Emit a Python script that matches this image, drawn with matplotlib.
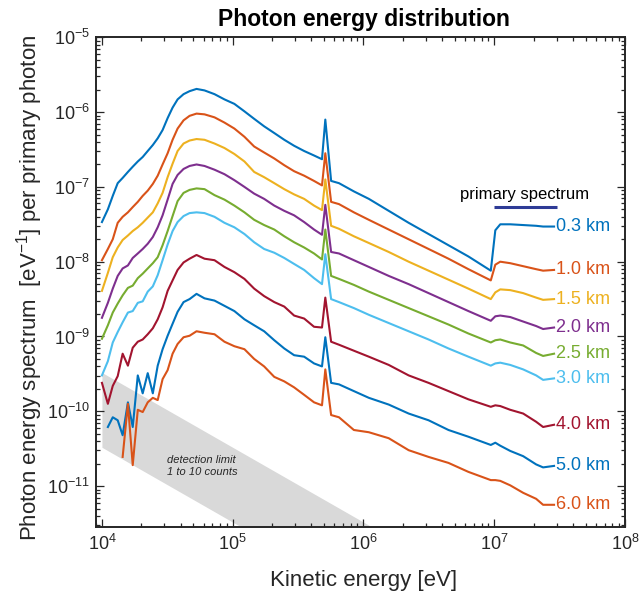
#!/usr/bin/env python3
"""
plot.py
───────
Photon energy spectra per primary photon at several depths (0.3 km … 6.0 km),
with the 1-to-10-count detection limit band and the primary spectrum marker.
Values were read off the reference figure (log10 of the spectrum).
Saves out.png (644x596 px).
"""

import numpy as np
import matplotlib
matplotlib.use("Agg")  # headless
import matplotlib.pyplot as plt

# ── Data ──────────────────────────────────────────────────────────────────────

energy_keV = [10.0, 11.1, 12.1, 13.2, 14.4, 15.8, 17.2, 18.8, 20.5, 22.4,
              24.5, 26.7, 29.1, 31.8, 34.7, 37.9, 42.1, 46.8, 52.9, 60.9,
              72.6, 86.5, 103, 123, 146, 174, 208, 248, 295, 352,
              419, 482, 511, 566, 650, 845, 1100, 1561, 2217, 3149,
              4471, 6350, 9420, 10200, 11130, 13270, 16660, 20930, 23660, 28700]

nan = np.nan

# log10 of spectrum [eV^-1 per primary photon]
log_03 = [-7.47, -7.30, -7.12, -6.95, -6.88, -6.80, -6.73, -6.66, -6.60, -6.52,
          -6.44, -6.35, -6.24, -6.08, -5.94, -5.83, -5.76, -5.72, -5.69, -5.71,
          -5.76, -5.83, -5.89, -5.99, -6.09, -6.19, -6.28, -6.37, -6.45, -6.52,
          -6.58, -6.63, -6.10, -6.92, -6.95, -7.06, -7.16, -7.32, -7.48, -7.63,
          -7.78, -7.93, -8.12, -7.58, -7.50, -7.50, -7.51, -7.52, -7.53, -7.53]
log_10 = [-7.98, -7.83, -7.70, -7.48, -7.40, -7.34, -7.27, -7.20, -7.12, -7.05,
          -6.96, -6.85, -6.70, -6.55, -6.37, -6.22, -6.11, -6.05, -6.02, -6.03,
          -6.07, -6.14, -6.22, -6.33, -6.46, -6.54, -6.62, -6.71, -6.79, -6.85,
          -6.92, -6.98, -6.55, -7.20, -7.23, -7.34, -7.44, -7.57, -7.70, -7.83,
          -7.96, -8.10, -8.25, -8.04, -8.00, -8.02, -8.06, -8.10, -8.12, -8.11]
log_15 = [-8.39, -8.15, -7.94, -7.81, -7.71, -7.65, -7.59, -7.54, -7.48, -7.41,
          -7.34, -7.22, -7.08, -6.87, -6.69, -6.52, -6.42, -6.38, -6.36, -6.37,
          -6.42, -6.48, -6.56, -6.66, -6.80, -6.87, -6.95, -7.03, -7.10, -7.16,
          -7.25, -7.31, -6.90, -7.52, -7.56, -7.66, -7.75, -7.87, -8.00, -8.12,
          -8.24, -8.36, -8.50, -8.41, -8.37, -8.38, -8.42, -8.48, -8.51, -8.50]
log_20 = [-8.75, -8.55, -8.36, -8.19, -8.09, -8.05, -7.95, -7.89, -7.83, -7.76,
          -7.67, -7.54, -7.38, -7.17, -6.96, -6.84, -6.76, -6.72, -6.70, -6.72,
          -6.77, -6.83, -6.91, -7.00, -7.09, -7.16, -7.25, -7.32, -7.38, -7.47,
          -7.57, -7.64, -7.24, -7.87, -7.89, -7.98, -8.07, -8.19, -8.30, -8.42,
          -8.54, -8.66, -8.79, -8.73, -8.72, -8.74, -8.80, -8.86, -8.90, -8.88]
log_25 = [-9.03, -8.85, -8.68, -8.56, -8.45, -8.35, -8.32, -8.22, -8.16, -8.09,
          -8.02, -7.94, -7.78, -7.59, -7.39, -7.19, -7.08, -7.04, -7.02, -7.03,
          -7.11, -7.17, -7.25, -7.34, -7.44, -7.51, -7.57, -7.66, -7.74, -7.81,
          -7.89, -7.97, -7.57, -8.19, -8.23, -8.31, -8.40, -8.51, -8.62, -8.73,
          -8.84, -8.96, -9.08, -9.05, -9.04, -9.08, -9.12, -9.22, -9.26, -9.23]
log_30 = [-9.52, -9.33, -9.08, -8.94, -8.81, -8.68, -8.66, -8.55, -8.53, -8.40,
          -8.33, -8.18, -7.98, -7.77, -7.59, -7.47, -7.39, -7.35, -7.34, -7.35,
          -7.40, -7.48, -7.54, -7.63, -7.74, -7.83, -7.88, -7.95, -8.03, -8.11,
          -8.22, -8.30, -7.90, -8.50, -8.54, -8.62, -8.71, -8.82, -8.93, -9.04,
          -9.16, -9.27, -9.39, -9.36, -9.35, -9.38, -9.44, -9.52, -9.58, -9.56]
log_40 = [-9.62, -9.90, -9.66, -9.53, -9.23, -9.39, -9.15, -9.07, -9.04, -8.97,
          -8.89, -8.77, -8.61, -8.39, -8.25, -8.11, -8.01, -7.96, -7.91, -7.96,
          -7.98, -8.07, -8.14, -8.23, -8.36, -8.46, -8.54, -8.60, -8.72, -8.76,
          -8.87, -8.88, -8.48, -9.07, -9.11, -9.19, -9.27, -9.38, -9.52, -9.62,
          -9.73, -9.84, -9.94, -9.92, -9.93, -9.98, -10.03, -10.14, -10.21, -10.18]
log_50 = [nan, -10.21, -10.08, -10.12, -10.32, -9.88, -10.21, -9.52, -9.76, -9.49,
          -9.76, -9.39, -9.17, -8.99, -8.83, -8.67, -8.54, -8.50, -8.43, -8.49,
          -8.52, -8.59, -8.66, -8.77, -8.85, -8.93, -9.05, -9.16, -9.25, -9.27,
          -9.36, -9.40, -9.01, -9.62, -9.64, -9.73, -9.82, -9.91, -10.03, -10.12,
          -10.25, -10.34, -10.45, -10.42, -10.46, -10.53, -10.60, -10.71, -10.75, -10.73]
log_60 = [nan, nan, nan, nan, -10.61, -9.90, -10.72, -9.98, -10.01, -9.88,
          -9.82, -9.85, -9.57, -9.45, -9.23, -9.10, -9.01, -8.99, -8.93, -8.95,
          -8.97, -9.07, -9.13, -9.17, -9.30, -9.40, -9.54, -9.60, -9.68, -9.78,
          -9.88, -9.92, -9.44, -10.05, -10.08, -10.25, -10.28, -10.36, -10.52, -10.61,
          -10.69, -10.81, -10.92, -10.92, -10.93, -10.99, -11.09, -11.17, -11.25, -11.25]

depth_labels = ["0.3 km", "1.0 km", "1.5 km", "2.0 km", "2.5 km",
                "3.0 km", "4.0 km", "5.0 km", "6.0 km"]
depth_colors = ["#0072BD", "#D95319", "#EDB120", "#7E2F8E", "#77AC30",
                "#4DBEEE", "#A2142F", "#0072BD", "#D95319"]
depth_series = [log_03, log_10, log_15, log_20, log_25,
                log_30, log_40, log_50, log_60]

# detection limit band (1 and 10 counts)
det_energy = [1e4, 1e8]
det_1count = [3.3e-11, 3.3e-15]
det_10count = [3.3e-10, 3.3e-14]

# primary spectrum marker
primary_energy = [1.0e7, 3.0e7]
primary_level = 5.4e-8

# ── Style ─────────────────────────────────────────────────────────────────────

plt.rcParams["font.family"] = ["Liberation Sans", "DejaVu Sans"]
plt.rcParams["mathtext.fontset"] = "custom"
plt.rcParams["mathtext.rm"] = "Liberation Sans"
plt.rcParams["mathtext.it"] = "Liberation Sans:italic"
plt.rcParams["mathtext.bf"] = "Liberation Sans:bold"

AXIS_COLOR = "#262626"


def main() -> None:
    fig = plt.figure(figsize=(6.44, 5.96), dpi=100)
    ax = fig.add_axes([0.149, 0.1158, 0.8214, 0.8216])
    ax.set_xscale("log")
    ax.set_yscale("log")

    # ── detection limit band ──────────────────────────────────────────────────
    ax.fill_between(det_energy, det_1count, det_10count,
                    color="#d9d9d9", linewidth=0, zorder=1)
    ax.text(3.15e4, 1.85e-11, "detection limit\n1 to 10 counts",
            fontsize=8, style="italic", color=AXIS_COLOR,
            va="center", ha="left", linespacing=1.25, zorder=3)

    # ── spectra ───────────────────────────────────────────────────────────────
    energy_eV = np.array(energy_keV) * 1e3
    for label, color, series in zip(depth_labels, depth_colors, depth_series):
        spec = 10.0 ** np.array(series)
        ax.plot(energy_eV, spec, color=color, linewidth=1.5, zorder=2)
        ax.annotate(label, xy=(energy_eV[-1], spec[-1]), xytext=(1.5, 0),
                    textcoords="offset points", ha="left", va="center",
                    fontsize=13, color=color, annotation_clip=False)

    # ── primary spectrum marker ───────────────────────────────────────────────
    ax.plot(primary_energy, [primary_level, primary_level],
            color="#2e3b96", linewidth=2.2, solid_capstyle="butt", zorder=3)
    ax.text(1.72e7, 7.8e-8, "primary spectrum", fontsize=12,
            color="black", ha="center", va="center")

    # ── axes ──────────────────────────────────────────────────────────────────
    ax.set_xlim(9.0e3, 1.0e8)
    ax.set_ylim(2.84e-12, 1e-5)
    ax.tick_params(which="both", direction="in", top=True, right=True,
                   color=AXIS_COLOR, width=0.9, labelcolor=AXIS_COLOR,
                   labelsize=13)
    ax.tick_params(which="major", length=6)
    ax.tick_params(which="minor", length=3)
    ax.tick_params(axis="x", pad=5)
    ax.tick_params(axis="y", pad=4)
    for spine in ax.spines.values():
        spine.set_color(AXIS_COLOR)
        spine.set_linewidth(1.4)

    ax.set_xlabel("Kinetic energy [eV]", fontsize=16, color=AXIS_COLOR)
    ax.set_ylabel("Photon energy spectrum  [eV$^{-1}$] per primary photon",
                  fontsize=16, color=AXIS_COLOR)
    ax.xaxis.set_label_coords(0.506, -0.088)
    ax.yaxis.set_label_coords(-0.097, 0.489)
    ax.set_title("Photon energy distribution", fontsize=16.5,
                 fontweight="bold", color="black", pad=8, x=0.507)

    fig.savefig("out.png", dpi=100)
    plt.close(fig)


if __name__ == "__main__":
    main()
